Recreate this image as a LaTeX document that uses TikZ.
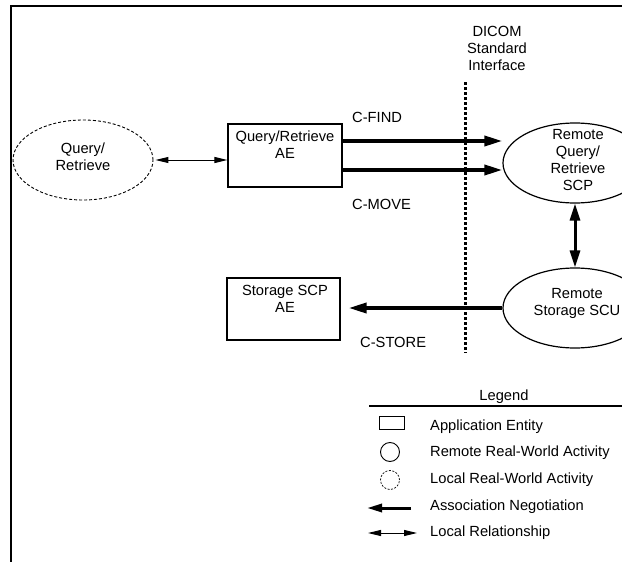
\documentclass[tikz,border=0pt]{standalone}
\usepackage{fontspec}
\setmainfont{Liberation Sans}
\usetikzlibrary{arrows.meta,shapes.geometric}
\begin{document}
\begin{tikzpicture}[x=1pt,y=-1pt,
  txt/.style={font=\fontsize{14.7}{17}\selectfont, inner sep=0pt, align=center},
  aebox/.style={draw, line width=1.2pt, minimum width=114pt, minimum height=63pt, inner sep=0pt},
  remote/.style={draw, ellipse, line width=1.2pt, minimum width=144pt, minimum height=80pt, inner sep=0pt},
  localact/.style={draw, ellipse, dash pattern=on 3pt off 2pt, line width=0.9pt, minimum width=140pt, minimum height=80pt, inner sep=0pt},
  assoc/.style={line width=3.5pt, -{Triangle[length=18pt,width=10pt]}},
  localrel/.style={line width=1pt, {Triangle[length=13pt,width=6pt]}-{Triangle[length=13pt,width=6pt]}},
  legtxt/.style={txt, anchor=west},
]
\useasboundingbox (0,0) rectangle (622,562);
\clip (0,0) rectangle (622,562);

% frame
\coordinate (fbl) at (11,562);
\coordinate (ftl) at (11,6);
\coordinate (ftr) at (622,6);
\draw[line width=1.7pt] (fbl) -- (ftl) -- (ftr);

% local activity
\node[localact] (qr) at (83,160) {};
\node[txt] (qrtext) at (83,157) {Query/\\Retrieve};

% AE boxes
\node[aebox] (qrae) at (285,155.5) {};
\node[txt] (qraetext) at (285,145) {Query/Retrieve\\AE};
\node[aebox, minimum width=113pt, minimum height=62pt] (stae) at (283.5,309) {};
\node[txt] (staetext) at (285,298.5) {Storage SCP\\AE};

% remote activities
\node[remote] (qrscp) at (575,163) {};
\node[txt] (qrscptext) at (578,160) {Remote\\Query/\\Retrieve\\SCP};
\node[remote] (scu) at (575,308) {};
\node[txt] (scutext) at (577,303) {Remote\\Storage SCU};

% DICOM interface
\node[txt] (dicom) at (497,48) {DICOM\\Standard\\Interface};
\coordinate (dtop) at (465,82);
\coordinate (dbot) at (465,353);
\draw[line width=3pt, dash pattern=on 3pt off 2pt] (dtop) -- (dbot);

% labels
\node[txt, anchor=west] (cfind) at (352,117) {C-FIND};
\node[txt, anchor=west] (cmove) at (352,204) {C-MOVE};
\node[txt, anchor=west] (cstore) at (360,342) {C-STORE};

% connectors
\draw[localrel, shorten <=2pt] (qr.east) -- (qr.east -| qrae.west);
\coordinate (findstart) at ([yshift=14.5pt]qrae.east);
\coordinate (movestart) at ([yshift=-14.5pt]qrae.east);
\draw[assoc] (findstart) -- (findstart -| qrscp.west);
\draw[assoc] (movestart) -- (movestart -| qrscp.west);
\draw[assoc, shorten >=8pt] (scu.west) -- (scu.west -| stae.east);
\draw[line width=3pt, {Triangle[length=17pt,width=10pt]}-{Triangle[length=17pt,width=10pt]}] (qrscp.south) -- (scu.north);

% legend
\node[txt] (legend) at (504,397) {Legend};
\coordinate (ll) at (369,406);
\coordinate (lr) at (622,406);
\draw[line width=1.3pt] (ll) -- (lr);
\node[draw, line width=0.9pt, minimum width=25pt, minimum height=13pt, inner sep=0pt] (lgae) at (391.5,422.5) {};
\node[draw, circle, line width=0.9pt, minimum size=19pt, inner sep=0pt] (lgrem) at (390,452) {};
\node[draw, circle, dash pattern=on 2pt off 1.5pt, line width=0.7pt, minimum size=19pt, inner sep=0pt] (lgloc) at (390,480) {};
\coordinate (a1) at (411,508);
\coordinate (a2) at (367,508);
\draw[line width=3pt, -{Triangle[length=15pt,width=8pt]}] (a1) -- (a2);
\coordinate (b1) at (368,533);
\coordinate (b2) at (417,533);
\draw[localrel] (b1) -- (b2);
\node[legtxt] (t1) at (430,427) {Application Entity};
\node[legtxt] (t2) at (430,453) {Remote Real-World Activity};
\node[legtxt] (t3) at (430,480) {Local Real-World Activity};
\node[legtxt] (t4) at (430,507) {Association Negotiation};
\node[legtxt] (t5) at (430,533) {Local Relationship};
\end{tikzpicture}
\end{document}
